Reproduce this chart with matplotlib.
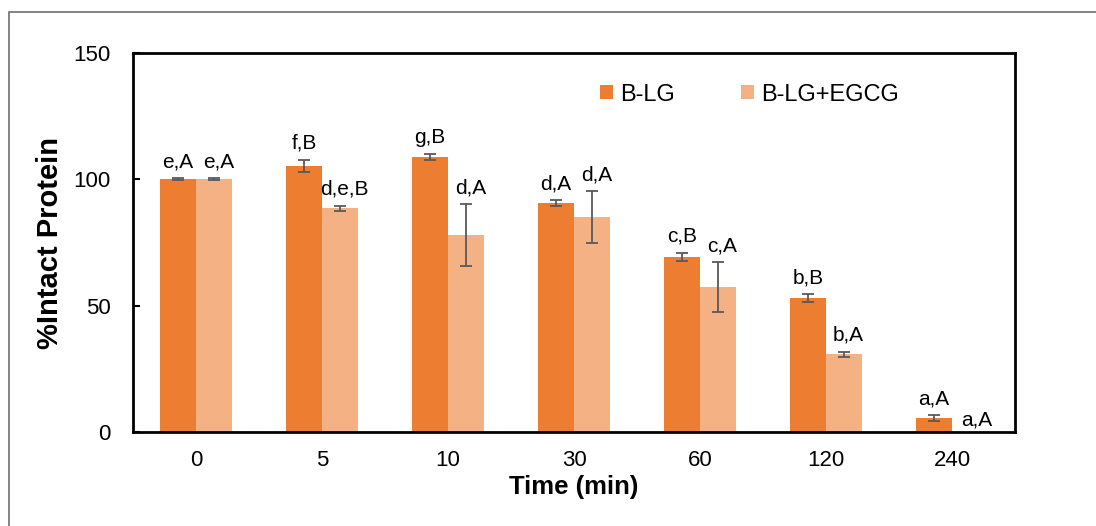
import numpy as np
import matplotlib.pyplot as plt
from matplotlib.patches import Rectangle

plt.rcParams['font.family'] = ['Liberation Sans', 'DejaVu Sans']

tempos = ['0', '5', '10', '30', '60', '120', '240']

blg = [100.0, 105.3, 108.8, 90.6, 69.3, 53.0, 5.5]
blg_err = [0.4, 2.4, 1.2, 1.1, 1.6, 1.5, 1.1]
blg_letras = ['e,A', 'f,B', 'g,B', 'd,A', 'c,B', 'b,B', 'a,A']

egcg = [100.0, 88.6, 78.0, 85.0, 57.4, 30.8, 0.0]
egcg_err = [0.4, 1.0, 12.2, 10.3, 9.9, 1.0, 0.0]
egcg_letras = ['e,A', 'd,e,B', 'd,A', 'd,A', 'c,A', 'b,A', 'a,A']

cor_blg = '#ED7D31'
cor_egcg = '#F4B183'
cor_erro = '#595959'

fig = plt.figure(figsize=(10.96, 5.26), dpi=100)
ax = fig.add_axes([0.1214, 0.1787, 0.8047, 0.7205])

# moldura da figura (cortada, só aparece em cima e à esquerda)
fig.patches.append(Rectangle((9 / 1096, -0.1), 1.2, 1.1 - 12 / 526,
                             transform=fig.transFigure, fill=False,
                             edgecolor='#6f6f6f', linewidth=1.2))

x = np.arange(len(tempos))
w = 0.2857

ax.bar(x - w / 2, blg, w, color=cor_blg, label='B-LG', zorder=2)
ax.bar(x + w / 2, egcg, w, color=cor_egcg, label='B-LG+EGCG', zorder=2)

ax.errorbar(x - w / 2, blg, yerr=blg_err, fmt='none', ecolor=cor_erro,
            elinewidth=1.3, capsize=4.5, capthick=1.3, zorder=3)
ax.errorbar(x[:-1] + w / 2, egcg[:-1], yerr=egcg_err[:-1], fmt='none', ecolor=cor_erro,
            elinewidth=1.3, capsize=4.5, capthick=1.3, zorder=3)

for i in range(len(tempos)):
    ax.annotate(blg_letras[i], (x[i] - w / 2, blg[i] + blg_err[i]),
                xytext=(0, 5), textcoords='offset points',
                ha='center', va='bottom', fontsize=15)
    if egcg[i] > 0:
        ax.annotate(egcg_letras[i], (x[i] + w / 2, egcg[i] + egcg_err[i]),
                    xytext=(3, 5), textcoords='offset points',
                    ha='center', va='bottom', fontsize=15)
    else:
        ax.annotate(egcg_letras[i], (x[i] + w / 2, egcg[i]),
                    xytext=(5, 1.5), textcoords='offset points',
                    ha='center', va='bottom', fontsize=15)

ax.set_xlim(-0.5, len(tempos) - 0.5)
ax.set_ylim(0, 150)
ax.set_yticks([0, 50, 100, 150])
ax.set_xticks(x)
ax.set_xticklabels(tempos)
ax.tick_params(axis='y', direction='in', length=5, width=1.5, pad=16, labelsize=16)
ax.tick_params(axis='x', length=0, pad=13, labelsize=16)

for s in ax.spines.values():
    s.set_linewidth(2)
    s.set_color('black')

ax.set_xlabel('Time (min)', fontsize=18.5, fontweight='bold', labelpad=3)
ax.set_ylabel('%Intact Protein', fontsize=21, fontweight='bold', labelpad=7)

ax.legend(loc='center left', bbox_to_anchor=(0.53, 0.89), ncol=2, frameon=False,
          fontsize=17, handlelength=0.55, handleheight=0.55, handletextpad=0.3,
          columnspacing=2.8, borderpad=0, borderaxespad=0)

plt.savefig('out.png', dpi=100)
